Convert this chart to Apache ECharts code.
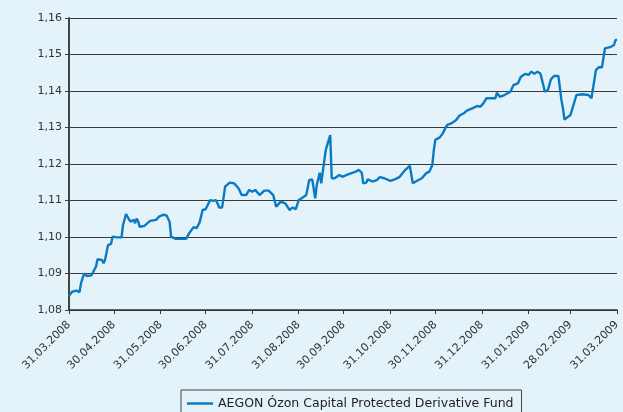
<!DOCTYPE html>
<html>
<head>
<meta charset="utf-8">
<script src="https://cdn.jsdelivr.net/npm/echarts@6/dist/echarts.min.js"></script>
<style>
    html, body { margin: 0; padding: 0; background: #e4f2f9; }
    #chart { width: 623px; height: 412px; }
</style>
</head>
<body>
<div id="chart"></div>
<script>
// days counted from 31.03.2008
var startDate = '31.03.2008';
var days = [
    0, 2, 5, 7, 8, 10, 12, 15, 18, 19, 22, 23, 24, 26, 28, 29, 32, 35, 36, 37,
    38, 40, 41, 43, 44, 45, 46, 47, 50, 54, 58, 60, 63, 65, 67, 68, 71, 78, 80, 83,
    85, 87, 89, 91, 94, 96, 98, 100, 102, 104, 107, 110, 113, 115, 118, 120, 122, 124, 127, 130,
    133, 136, 138, 141, 144, 147, 149, 151, 153, 155, 158, 160, 162, 164, 165, 167, 168, 171, 174, 175,
    177, 180, 182, 185, 191, 193, 195, 196, 198, 199, 202, 203, 205, 207, 210, 214, 217, 220, 224, 227,
    228, 229, 231, 235, 238, 240, 242, 243, 244, 247, 249, 251, 252, 255, 258, 260, 263, 265, 269, 272,
    274, 276, 278, 284, 285, 287, 290, 294, 296, 299, 301, 304, 306, 308, 310, 312, 314, 317, 319, 321,
    323, 326, 328, 329, 330, 332, 334, 338, 342, 346, 348, 351, 353, 355, 357, 361, 363, 364, 365
];
var fundValues = [
    1.0838, 1.0850, 1.0853, 1.0849, 1.0873, 1.0900, 1.0893, 1.0895, 1.0919, 1.0939, 1.0937, 1.0928, 1.0937, 1.0978, 1.0981, 1.1001, 1.0999, 1.0999, 1.1033, 1.1038,
    1.1063, 1.1048, 1.1042, 1.1047, 1.1038, 1.1050, 1.1044, 1.1028, 1.1030, 1.1044, 1.1047, 1.1056, 1.1061, 1.1059, 1.1042, 1.1001, 1.0995, 1.0995, 1.1010, 1.1027,
    1.1024, 1.1040, 1.1074, 1.1076, 1.1101, 1.1099, 1.1101, 1.1081, 1.1081, 1.1138, 1.1149, 1.1147, 1.1133, 1.1115, 1.1115, 1.1129, 1.1124, 1.1129, 1.1115, 1.1127,
    1.1127, 1.1115, 1.1083, 1.1097, 1.1092, 1.1074, 1.1081, 1.1076, 1.1101, 1.1106, 1.1115, 1.1156, 1.1158, 1.1106, 1.1142, 1.1176, 1.1147, 1.1238, 1.1279, 1.1161,
    1.1161, 1.1170, 1.1165, 1.1170, 1.1179, 1.1184, 1.1176, 1.1147, 1.1149, 1.1158, 1.1152, 1.1147, 1.1156, 1.1164, 1.1161, 1.1154, 1.1158, 1.1164, 1.1184, 1.1195,
    1.1200, 1.1147, 1.1152, 1.1161, 1.1175, 1.1179, 1.1197, 1.1238, 1.1266, 1.1273, 1.1284, 1.1301, 1.1307, 1.1312, 1.1321, 1.1332, 1.1339, 1.1346, 1.1353, 1.1359,
    1.1357, 1.1366, 1.1380, 1.1380, 1.1395, 1.1384, 1.1389, 1.1398, 1.1416, 1.1421, 1.1439, 1.1447, 1.1444, 1.1453, 1.1447, 1.1453, 1.1448, 1.1398, 1.1403, 1.1432,
    1.1441, 1.1441, 1.1375, 1.1353, 1.1322, 1.1328, 1.1334, 1.1389, 1.1391, 1.1389, 1.1380, 1.1458, 1.1465, 1.1465, 1.1517, 1.1521, 1.1526, 1.1540, 1.1540
];
var tickDates = [
    '31.03.2008', '30.04.2008', '31.05.2008', '30.06.2008', '31.07.2008', '31.08.2008', '30.09.2008',
    '31.10.2008', '30.11.2008', '31.12.2008', '31.01.2009', '28.02.2009', '31.03.2009'
];
var yTicks = [1.08, 1.09, 1.10, 1.11, 1.12, 1.13, 1.14, 1.15, 1.16];
var seriesName = 'AEGON Ózon Capital Protected Derivative Fund';

function dayNo(s) {
    var p = s.split('.');
    return Date.UTC(+p[2], +p[1] - 1, +p[0]) / 86400000;
}
var d0 = dayNo(startDate);
var tickDays = tickDates.map(function (s) {
    return dayNo(s) - d0;
});
var lineData = days.map(function (d, i) {
    return [d, fundValues[i]];
});

var font = 'DejaVu Sans';
var lineColor = '#0a7bc2';
var chart = echarts.init(document.getElementById('chart'));
chart.setOption({
    backgroundColor: '#e4f2f9',
    animation: false,
    grid: {
        left: 69,
        right: 0,
        top: 18,
        bottom: 102,
        containLabel: false
    },
    legend: {
        left: 181,
        top: 390,
        padding: [7, 8, 8, 6],
        itemWidth: 26,
        itemHeight: 2.5,
        icon: 'rect',
        borderColor: '#444',
        borderWidth: 1,
        borderRadius: 0,
        itemStyle: {color: lineColor},
        textStyle: {
            fontFamily: font,
            fontSize: 12.5,
            color: '#222'
        },
        data: [seriesName]
    },
    xAxis: {
        type: 'value',
        min: 0,
        max: tickDays[tickDays.length - 1],
        axisLine: {
            lineStyle: {color: '#333', width: 1.5}
        },
        axisTick: {
            show: true,
            length: 4,
            customValues: tickDays,
            lineStyle: {color: '#333'}
        },
        splitLine: {show: false},
        axisLabel: {
            customValues: tickDays,
            rotate: 45,
            margin: 13,
            fontFamily: font,
            fontSize: 11,
            color: '#333',
            formatter: function (v) {
                var i = tickDays.indexOf(v);
                return i >= 0 ? tickDates[i] : '';
            }
        }
    },
    yAxis: {
        type: 'value',
        min: yTicks[0],
        max: yTicks[yTicks.length - 1],
        interval: 0.01,
        axisLine: {
            show: true,
            lineStyle: {color: '#444', width: 2}
        },
        axisTick: {
            show: true,
            length: 4,
            lineStyle: {color: '#444'}
        },
        splitLine: {
            show: true,
            lineStyle: {color: '#3a3a3a', width: 1}
        },
        axisLabel: {
            margin: 7,
            fontFamily: font,
            fontSize: 11,
            color: '#333',
            formatter: function (v) {
                return v.toFixed(2).replace('.', ',');
            }
        }
    },
    series: [{
        name: seriesName,
        type: 'line',
        symbol: 'none',
        showSymbol: false,
        data: lineData,
        lineStyle: {color: lineColor, width: 2.4},
        itemStyle: {color: lineColor}
    }]
});
</script>
</body>
</html>
